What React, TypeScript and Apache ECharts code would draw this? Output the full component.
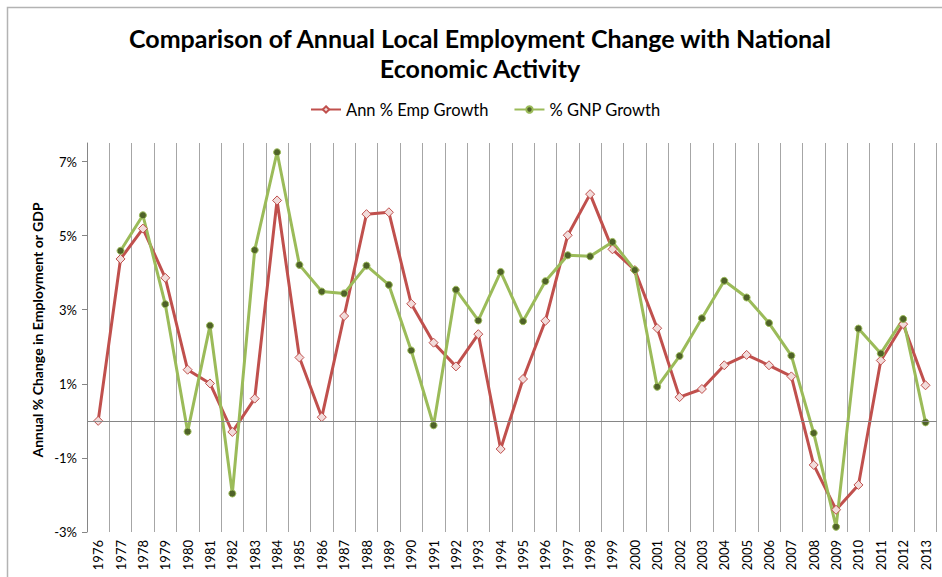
import React, { useEffect, useRef } from "react";
import * as echarts from "echarts";

const years = [
  "1976", "1977", "1978", "1979", "1980", "1981", "1982", "1983", "1984", "1985",
  "1986", "1987", "1988", "1989", "1990", "1991", "1992", "1993", "1994", "1995",
  "1996", "1997", "1998", "1999", "2000", "2001", "2002", "2003", "2004", "2005",
  "2006", "2007", "2008", "2009", "2010", "2011", "2012", "2013",
];

const empGrowth = [
  0.0, 4.37, 5.19, 3.86, 1.38, 1.01, -0.3, 0.6, 5.95, 1.71,
  0.1, 2.83, 5.58, 5.63, 3.16, 2.11, 1.47, 2.34, -0.76, 1.13,
  2.7, 5.01, 6.12, 4.63, 4.07, 2.5, 0.64, 0.86, 1.5, 1.78,
  1.5, 1.2, -1.19, -2.4, -1.73, 1.63, 2.61, 0.96,
];

const gnpGrowth = [
  null, 4.59, 5.55, 3.15, -0.29, 2.57, -1.96, 4.61, 7.25, 4.21,
  3.49, 3.44, 4.19, 3.67, 1.9, -0.12, 3.54, 2.71, 4.02, 2.69,
  3.77, 4.47, 4.44, 4.83, 4.07, 0.92, 1.75, 2.77, 3.78, 3.33,
  2.64, 1.76, -0.33, -2.86, 2.49, 1.82, 2.75, -0.04,
];

const yTickValues = [-3, -1, 1, 3, 5, 7];

const titleLines = ["Comparison of Annual Local Employment Change with National", "Economic Activity"];
const yAxisTitle = "Annual % Change in Employment or GDP";

const FONT = "Lato, 'Open Sans', sans-serif";

export default function App() {
  const ref = useRef<HTMLDivElement>(null);

  useEffect(() => {
    if (!ref.current) return;
    const chart = echarts.init(ref.current, null, { renderer: "svg" });
    chart.setOption({
      animation: false,
      backgroundColor: "#ffffff",
      textStyle: { fontFamily: FONT },
      graphic: [
        {
          type: "rect",
          shape: { x: 7.5, y: 7.5, width: 1000, height: 1000 },
          style: { fill: "none", stroke: "#b3b3b3", lineWidth: 1.5 },
          silent: true,
        },
        {
          type: "text",
          x: 480,
          y: 38,
          style: {
            text: titleLines[0],
            fontFamily: FONT,
            fontSize: 25,
            fontWeight: "bold",
            fill: "#000",
            align: "center",
            verticalAlign: "middle",
          },
        },
        {
          type: "text",
          x: 480,
          y: 68,
          style: {
            text: titleLines[1],
            fontFamily: FONT,
            fontSize: 25,
            fontWeight: "bold",
            fill: "#000",
            align: "center",
            verticalAlign: "middle",
          },
        },
        {
          type: "text",
          x: 37,
          y: 330,
          rotation: Math.PI / 2,
          style: {
            text: yAxisTitle,
            fontFamily: FONT,
            fontSize: 14,
            fontWeight: "bold",
            fill: "#000",
            align: "center",
            verticalAlign: "middle",
          },
        },
      ],
      legend: {
        left: 305,
        top: 96,
        itemWidth: 30,
        itemHeight: 8,
        itemGap: 25,
        textStyle: { fontSize: 16.5, color: "#000", fontFamily: FONT },
        data: ["Ann % Emp Growth", "% GNP Growth"],
      },
      grid: { left: 87, right: 5.3, top: 143, bottom: 45, containLabel: false },
      xAxis: {
        type: "category",
        data: years,
        boundaryGap: true,
        axisLine: { show: false, onZero: false },
        axisTick: { show: false },
        splitLine: { show: true, interval: 0, lineStyle: { color: "#a6a6a6", width: 1 } },
        axisLabel: {
          interval: 0,
          rotate: 90,
          fontSize: 13,
          color: "#000",
          margin: 8,
          fontFamily: FONT,
        },
      },
      yAxis: {
        type: "value",
        min: -3,
        max: 7.5,
        axisLine: { show: true, lineStyle: { color: "#868686" } },
        axisTick: { show: true, length: 5, customValues: yTickValues, lineStyle: { color: "#868686" } },
        splitLine: { show: false },
        axisLabel: {
          customValues: yTickValues,
          formatter: (v: number) => `${v}%`,
          fontSize: 13,
          color: "#000",
          margin: 10,
          fontFamily: FONT,
        },
      },
      series: [
        {
          name: "zero",
          type: "line",
          data: [],
          silent: true,
          markLine: {
            silent: true,
            symbol: "none",
            label: { show: false },
            lineStyle: { color: "#868686", width: 1, type: "solid" },
            data: [{ yAxis: 0 }],
          },
        },
        {
          name: "Ann % Emp Growth",
          type: "line",
          data: empGrowth,
          symbol: "diamond",
          symbolSize: 9,
          lineStyle: { color: "#c0504d", width: 3 },
          itemStyle: { color: "#f2dcdb", borderColor: "#c0504d", borderWidth: 1 },
          emphasis: { disabled: true },
        },
        {
          name: "% GNP Growth",
          type: "line",
          data: gnpGrowth,
          symbol: "circle",
          symbolSize: 7,
          connectNulls: false,
          lineStyle: { color: "#9bbb59", width: 3 },
          itemStyle: { color: "#4f6228", borderColor: "#9bbb59", borderWidth: 1 },
          emphasis: { disabled: true },
        },
      ],
    });
    return () => chart.dispose();
  }, []);

  return (
    <div
      ref={ref}
      style={{ position: "absolute", left: 0, top: 0, width: 942, height: 577 }}
    />
  );
}
